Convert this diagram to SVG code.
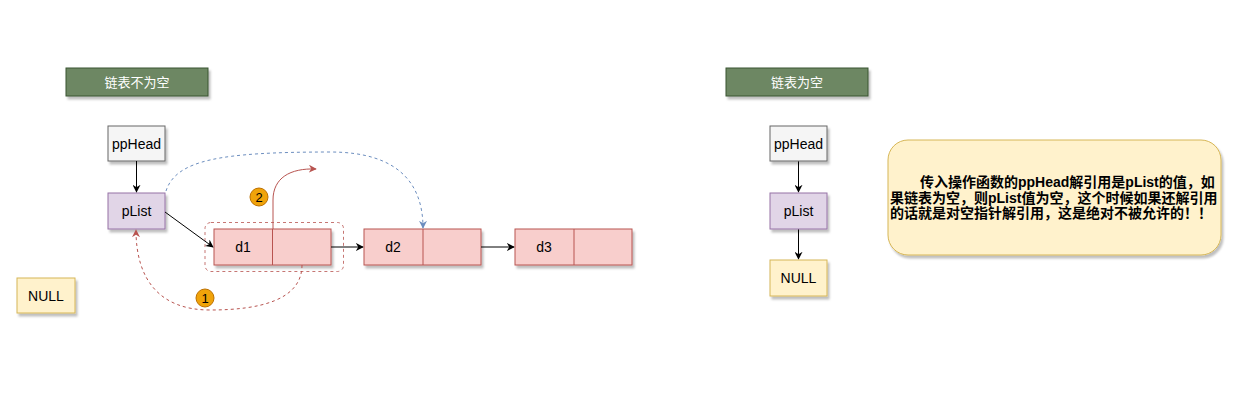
<svg xmlns="http://www.w3.org/2000/svg" width="1239" height="408" viewBox="0 0 1239 408">
<style>
text{font-family:"Liberation Sans","Noto Sans CJK SC",sans-serif;font-size:14px;fill:#000;}
.c{text-anchor:middle;dominant-baseline:central;}
.title rect{fill:#6d8764;stroke:#3a5431;}
.title text{fill:#fff;font-size:13px;}
.gray{fill:#f5f5f5;stroke:#666;}
.purple{fill:#e1d5e7;stroke:#9673a6;}
.yellow{fill:#fff2cc;stroke:#d6b656;}
.red{fill:#f8cecc;stroke:#b85450;}
.badge{fill:#f0a30a;stroke:#bd7000;}
.badge-t{font-size:13px;}
.note text{font-weight:bold;font-size:14px;}
.ln{fill:none;stroke:#000;stroke-width:1;}
</style>
<defs>
<filter id="sh" x="-20%" y="-20%" width="150%" height="150%">
<feDropShadow dx="2" dy="3" stdDeviation="1" flood-color="#000" flood-opacity="0.25"/>
</filter>
<marker id="ak" viewBox="0 0 10 10" refX="9" refY="5" markerWidth="8" markerHeight="8" orient="auto" markerUnits="userSpaceOnUse"><path d="M0,0 L10,5 L0,10 L3,5 Z" fill="#000"/></marker>
<marker id="ab" viewBox="0 0 10 10" refX="9" refY="5" markerWidth="8" markerHeight="8" orient="auto" markerUnits="userSpaceOnUse"><path d="M0,0 L10,5 L0,10 L3,5 Z" fill="#6c8ebf"/></marker>
<marker id="ar" viewBox="0 0 10 10" refX="9" refY="5" markerWidth="8" markerHeight="8" orient="auto" markerUnits="userSpaceOnUse"><path d="M0,0 L10,5 L0,10 L3,5 Z" fill="#b85450"/></marker>
</defs>

<g id="title-left" class="title"><rect x="66" y="68" width="142" height="28" filter="url(#sh)"/><text class="c" x="137" y="82">链表不为空</text></g>
<g id="ppHead-left"><rect class="gray" x="108" y="126" width="57" height="35" filter="url(#sh)"/><text class="c" x="136.5" y="143.5">ppHead</text></g>
<g id="pList-left"><rect class="purple" x="108" y="193" width="57" height="36" filter="url(#sh)"/><text class="c" x="136.5" y="211">pList</text></g>
<g id="null-left"><rect class="yellow" x="17" y="278" width="58" height="35" filter="url(#sh)"/><text class="c" x="46" y="295.5">NULL</text></g>
<g id="d1"><rect class="red" x="214" y="229" width="117" height="36" filter="url(#sh)"/><line x1="272.5" y1="229" x2="272.5" y2="265" stroke="#b85450"/><text class="c" x="243" y="247">d1</text></g>
<g id="d2"><rect class="red" x="364" y="229" width="117" height="36" filter="url(#sh)"/><line x1="423" y1="229" x2="423" y2="265" stroke="#b85450"/><text class="c" x="393" y="247">d2</text></g>
<g id="d3"><rect class="red" x="515" y="229" width="117" height="36" filter="url(#sh)"/><line x1="574" y1="229" x2="574" y2="265" stroke="#b85450"/><text class="c" x="544" y="247">d3</text></g>
<g id="d1-frame"><rect x="205" y="222.5" width="138.5" height="49" rx="6" fill="none" stroke="#b85450" stroke-dasharray="3 3" opacity="0.8"/></g>

<g id="connectors">
<line class="ln" x1="136.5" y1="161" x2="136.5" y2="192" marker-end="url(#ak)"/>
<line class="ln" x1="165" y1="212" x2="213" y2="247" marker-end="url(#ak)"/>
<line class="ln" x1="331" y1="247" x2="363" y2="247" marker-end="url(#ak)"/>
<line class="ln" x1="481" y1="247" x2="514" y2="247" marker-end="url(#ak)"/>
<path d="M166,191 C176,160 220,152 330,152 C400,152 423,185 423,228" fill="none" stroke="#6c8ebf" stroke-dasharray="3 3" marker-end="url(#ab)"/>
<path d="M273,229 L273,200 C273,178 290,168 316,169" fill="none" stroke="#b85450" marker-end="url(#ar)"/>
<path d="M302,265 C302,300 260,310 210,310 C160,310 136,280 136,230" fill="none" stroke="#b85450" stroke-dasharray="3 3" marker-end="url(#ar)"/>
<line class="ln" x1="798.5" y1="161" x2="798.5" y2="192" marker-end="url(#ak)"/>
<line class="ln" x1="798.5" y1="229" x2="798.5" y2="259" marker-end="url(#ak)"/>
</g>

<g id="badge-2"><circle class="badge" cx="259" cy="197" r="9"/><text class="c badge-t" x="259" y="197">2</text></g>
<g id="badge-1"><circle class="badge" cx="205" cy="298" r="9"/><text class="c badge-t" x="205" y="298">1</text></g>

<g id="title-right" class="title"><rect x="726" y="68" width="142" height="28" filter="url(#sh)"/><text class="c" x="797" y="82">链表为空</text></g>
<g id="ppHead-right"><rect class="gray" x="770" y="126" width="57" height="35" filter="url(#sh)"/><text class="c" x="798.5" y="143.5">ppHead</text></g>
<g id="pList-right"><rect class="purple" x="770" y="193" width="57" height="36" filter="url(#sh)"/><text class="c" x="798.5" y="211">pList</text></g>
<g id="null-right"><rect class="yellow" x="770" y="260" width="57" height="36" filter="url(#sh)"/><text class="c" x="798.5" y="278">NULL</text></g>

<g id="note" class="note"><rect class="yellow" x="888" y="140" width="333" height="115" rx="20" filter="url(#sh)"/>
<text x="920" y="187">传入操作函数的ppHead解引用是pList的值，如</text>
<text x="890" y="202.5">果链表为空，则pList值为空，这个时候如果还解引用</text>
<text x="890" y="218">的话就是对空指针解引用，这是绝对不被允许的！！</text>
</g>
</svg>
